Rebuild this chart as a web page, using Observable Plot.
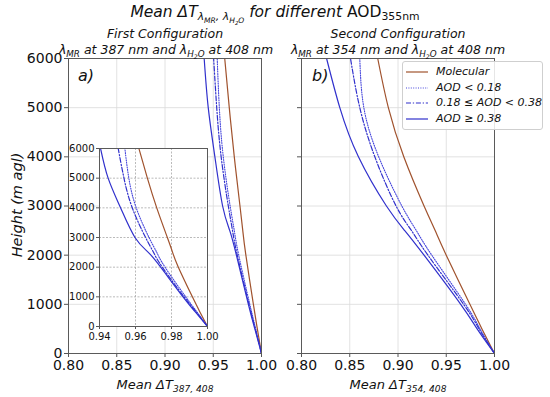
<!DOCTYPE html>
<html><head><meta charset="utf-8">
<script src="https://cdn.jsdelivr.net/npm/d3@7"></script>
<script src="https://cdn.jsdelivr.net/npm/@observablehq/plot@0.6"></script>
<style>
body{margin:0;background:#fff;}
#root{position:relative;width:550px;height:397px;font-family:"DejaVu Sans",sans-serif;color:#111;overflow:hidden;background:#fff}
.abs{position:absolute;left:0;top:0}
.t{position:absolute;white-space:nowrap;line-height:1}
.c{transform:translateX(-50%)}
sub{font-size:0.7em;vertical-align:baseline;position:relative;top:0.32em;line-height:0}
#legend{position:absolute;left:402px;top:61px;width:141px;height:69px;box-sizing:border-box;border:1px solid #cfcfcf;border-radius:3px;background:rgba(255,255,255,0.85)}
.row{position:absolute;left:0;height:14px;width:140px;font-style:italic;font-size:11px;line-height:14px}
.row svg{position:absolute;left:2px;top:0}
.row span{position:absolute;left:33px;top:0}
</style></head><body>
<div id="root">
  <div id="pa" class="abs"></div>
  <div id="pb" class="abs" style="left:280px"></div>
  <div id="pi" class="abs" style="left:65px;top:140px"></div>

  <div class="t c" style="left:275px;top:5px;font-size:15.5px"><i>Mean ΔT<sub>λ<sub>MR</sub>, λ<sub>H<sub>2</sub>O</sub></sub> for different </i>AOD<sub>355nm</sub></div>

  <div class="t c" style="left:165px;top:28px;font-size:12.5px;font-style:italic">First Configuration</div>
  <div class="t c" style="left:166px;top:44px;font-size:12.5px;font-style:italic">λ<sub>MR</sub> at 387 nm and λ<sub>H<sub>2</sub>O</sub> at 408 nm</div>
  <div class="t c" style="left:398px;top:28px;font-size:12.5px;font-style:italic">Second Configuration</div>
  <div class="t c" style="left:398px;top:44px;font-size:12.5px;font-style:italic">λ<sub>MR</sub> at 354 nm and λ<sub>H<sub>2</sub>O</sub> at 408 nm</div>

  <div class="t" style="left:17px;top:205px;font-size:14.5px;font-style:italic;transform:translate(-50%,-50%) rotate(-90deg)">Height (m agl)</div>

  <div class="t c" style="left:165px;top:378px;font-size:13px;font-style:italic">Mean ΔT<sub>387, 408</sub></div>
  <div class="t c" style="left:398px;top:378px;font-size:13px;font-style:italic">Mean ΔT<sub>354, 408</sub></div>

  <div class="t" style="left:78px;top:68px;font-size:16px;font-style:italic">a)</div>
  <div class="t" style="left:312px;top:68px;font-size:16px;font-style:italic">b)</div>

  <div id="legend"></div>
</div>
<script>
// ---- data ----
const heights = [0, 500, 1000, 2000, 2500, 3000, 4000, 5000, 6000];
// First configuration (387/408 nm)
const a_molecular = [1.0, 0.9957, 0.9916, 0.9838, 0.9806, 0.9777, 0.9718, 0.9666, 0.9619];
const a_aodLow    = [1.0, 0.9940, 0.9879, 0.9764, 0.9718, 0.9675, 0.9604, 0.9563, 0.9541];
const a_aodMid    = [1.0, 0.9936, 0.9870, 0.9749, 0.9700, 0.9656, 0.9582, 0.9536, 0.9504];
const a_aodHigh   = [1.0, 0.9931, 0.9864, 0.9740, 0.9671, 0.9597, 0.9517, 0.9448, 0.9406];
// Second configuration (354/408 nm)
const b_molecular = [1.0, 0.987, 0.9745, 0.950, 0.9385, 0.927, 0.906, 0.890, 0.879];
const b_aodLow    = [1.0, 0.985, 0.970, 0.935, 0.919, 0.904, 0.880, 0.8646, 0.8604];
const b_aodMid    = [1.0, 0.984, 0.968, 0.931, 0.914, 0.898, 0.876, 0.8604, 0.8508];
const b_aodHigh   = [1.0, 0.982, 0.965, 0.927, 0.907, 0.888, 0.859, 0.8397, 0.826];

const seriesNames = ["Molecular", "AOD < 0.18", "0.18 ≤ AOD < 0.38", "AOD ≥ 0.38"];
const xTicksMain = [0.80, 0.85, 0.90, 0.95, 1.00];
const yTicksMain = [0, 1000, 2000, 3000, 4000, 5000, 6000];
const xTicksInset = [0.94, 0.96, 0.98, 1.00];
const yTicksInset = [0, 1000, 2000, 3000, 4000, 5000, 6000];

// ---- styles ----
const styles = [
  {stroke: "#a0522d", dash: null, width: 1.2},
  {stroke: "#4646dc", dash: "1,1.4", width: 1.1},
  {stroke: "#3030cc", dash: "5,1.8,1.3,1.8", width: 1.2},
  {stroke: "#3030cc", dash: null, width: 1.2}
];
const font = "DejaVu Sans";
const fmtY = d3.format("d");
const fmtX = d3.format(".2f");

function lineMarks(arrays) {
  return arrays.map((arr, k) => Plot.line(
    heights.map((h, i) => ({h, v: arr[i]})),
    {x: "v", y: "h", stroke: styles[k].stroke, strokeWidth: styles[k].width,
     strokeDasharray: styles[k].dash, curve: "natural", clip: true}
  ));
}

function panel(arrays, opts) {
  return Plot.plot({
    width: opts.width, height: opts.height,
    marginLeft: opts.ml, marginRight: opts.mr, marginTop: opts.mt, marginBottom: opts.mb,
    x: {domain: opts.xd}, y: {domain: [0, 6000]},
    style: {fontFamily: font, fontSize: opts.fs + "px", background: "transparent", overflow: "visible", color: "#111"},
    marks: [
      opts.fill ? Plot.frame({fill: "white"}) : null,
      Plot.gridX(opts.xt.filter(d => d > opts.xd[0] && d < opts.xd[1]), {stroke: opts.gridStroke, strokeOpacity: 1, strokeWidth: 0.8, strokeDasharray: opts.gridDash}),
      Plot.gridY(opts.yt.filter(d => d > 0 && d < 6000), {stroke: opts.gridStroke, strokeOpacity: 1, strokeWidth: 0.8, strokeDasharray: opts.gridDash}),
      ...lineMarks(arrays),
      Plot.axisX(opts.xt, {tickFormat: fmtX, tickSize: opts.ts, tickPadding: opts.tp, label: null, fontSize: opts.fs, stroke: "#555"}),
      Plot.axisY(opts.yt, {tickFormat: opts.yLabels ? fmtY : () => "", tickSize: opts.ts, tickPadding: opts.tp - 1, label: null, fontSize: opts.fs, stroke: "#555"}),
      Plot.frame({stroke: "#5a5a5a", strokeWidth: 1})
    ]
  });
}

document.getElementById("pa").append(panel([a_molecular, a_aodLow, a_aodMid, a_aodHigh], {
  width: 275, height: 397, ml: 68, mr: 14, mt: 58, mb: 44, xd: [0.8, 1.0],
  xt: xTicksMain, yt: yTicksMain, fs: 14, ts: 4, tp: 3, yLabels: true,
  gridStroke: "#dadada", gridDash: null, fill: false
}));

document.getElementById("pb").append(panel([b_molecular, b_aodLow, b_aodMid, b_aodHigh], {
  width: 230, height: 397, ml: 21, mr: 16, mt: 58, mb: 44, xd: [0.8, 1.0],
  xt: xTicksMain, yt: yTicksMain, fs: 14, ts: 4, tp: 3, yLabels: false,
  gridStroke: "#dadada", gridDash: null, fill: false
}));

document.getElementById("pi").append(panel([a_molecular, a_aodLow, a_aodMid, a_aodHigh], {
  width: 156, height: 205, ml: 34, mr: 14, mt: 8, mb: 19, xd: [0.94, 1.0],
  xt: xTicksInset, yt: yTicksInset, fs: 10, ts: 3, tp: 3, yLabels: true,
  gridStroke: "#a8a8a8", gridDash: "2,1.5", fill: true
}));

// legend
const legend = document.getElementById("legend");
seriesNames.forEach((name, k) => {
  const row = document.createElement("div");
  row.className = "row";
  row.style.top = (3 + k * 15.7) + "px";
  const s = styles[k];
  row.innerHTML = `<svg width="24" height="14"><line x1="1" y1="7" x2="23" y2="7" stroke="${s.stroke}" stroke-width="${s.width}" ${s.dash ? `stroke-dasharray="${s.dash}"` : ""}/></svg><span>${name}</span>`;
  legend.append(row);
});
</script>
</body></html>
